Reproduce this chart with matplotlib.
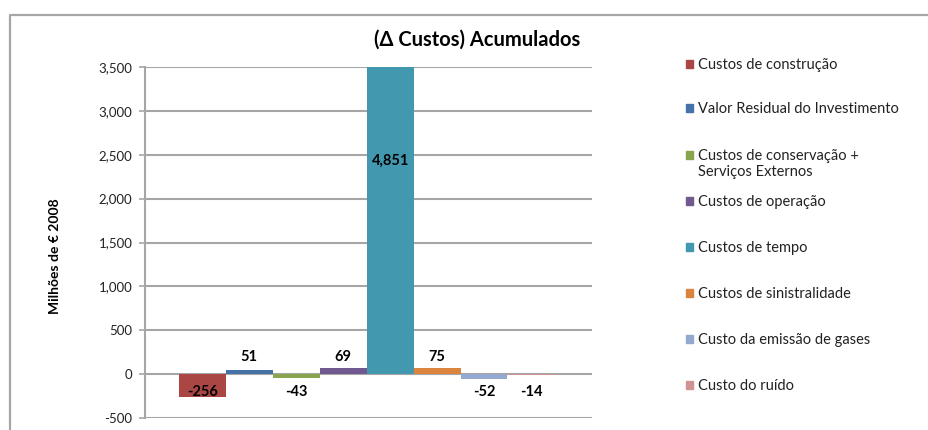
import matplotlib
matplotlib.use("Agg")
import matplotlib.pyplot as plt
from matplotlib.patches import Rectangle
from matplotlib.lines import Line2D

# series (one category, eight series)
series_names = ["Custos de construção", "Valor Residual do Investimento",
                "Custos de conservação +\nServiços Externos", "Custos de operação",
                "Custos de tempo", "Custos de sinistralidade",
                "Custo da emissão de gases", "Custo do ruído"]
series_values = [-256, 51, -43, 69, 4851, 75, -52, -14]
series_colors = ["#AA4643", "#4572A7", "#89A54E", "#71588F",
                 "#4198AF", "#DB843D", "#93A9CF", "#D19392"]
y_ticks = [-500, 0, 500, 1000, 1500, 2000, 2500, 3000, 3500]

plt.rcParams['font.family'] = ['Lato', 'DejaVu Sans']

W, H = 929, 430
fig = plt.figure(figsize=(W / 100, H / 100), dpi=100)

def fx(px):
    return px / W

def fy(py):
    return 1 - py / H

# chart frame (left + top border)
fig.add_artist(Line2D([fx(10), fx(10), 1], [0, fy(15), fy(15)],
                      color="#A6A6A6", lw=1.6, transform=fig.transFigure))

ax = fig.add_axes([fx(145), fy(418), fx(592) - fx(145), fy(67) - fy(418)])

positions = list(range(len(series_values)))
ax.bar(positions, series_values, width=1.0, color=series_colors, zorder=3)

ax.set_ylim(-500, 3500)
ax.set_xlim(-1.22, 8.3)
ax.set_yticks(y_ticks)
ax.set_yticklabels([f"{t:,}" for t in y_ticks], fontsize=9.5, color="#222222")
ax.set_xticks([])
ax.tick_params(axis='y', direction='out', length=4, width=1.2, color="#A6A6A6", pad=5)
ax.grid(axis='y', color="#A6A6A6", lw=1.5, zorder=0)
for s in ["top", "right", "bottom"]:
    ax.spines[s].set_visible(False)
ax.spines["left"].set_color("#A6A6A6")
ax.spines["left"].set_linewidth(1.5)

# data labels
for x, v in zip(positions, series_values):
    txt = f"{v:,}"
    if v > 1000:
        ax.text(x, v / 2, txt, ha="center", va="center", fontsize=10.5,
                fontweight="bold", zorder=5)
    else:
        off = 12 if v > 0 else -13
        ax.annotate(txt, xy=(x, 0), xytext=(0, off), textcoords="offset points",
                    ha="center", va="center", fontsize=10.5, fontweight="bold", zorder=5)

fig.text(fx(477), fy(40), "(Δ Custos) Acumulados", ha="center", va="center",
         fontsize=14.5, fontweight="bold")
fig.text(fx(55), fy(256), "Milhões de € 2008", rotation=90, ha="center", va="center",
         fontsize=10, fontweight="bold")

# legend
legend_y = [64, 108, 155, 201, 247, 293, 339, 385]
for name, col, ly in zip(series_names, series_colors, legend_y):
    fig.add_artist(Rectangle((fx(686), fy(ly + 4)), fx(7), fy(0) - fy(8),
                             color=col, transform=fig.transFigure))
    fig.text(fx(698), fy(ly - 6), name, ha="left", va="top", fontsize=10.5,
             color="#222222", linespacing=1.15)

fig.savefig("out.png", dpi=100)
